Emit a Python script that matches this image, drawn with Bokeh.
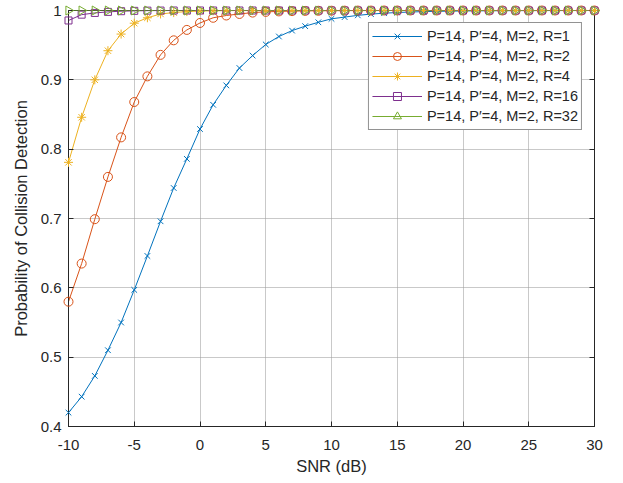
import math
from bokeh.plotting import figure
from bokeh.models import LinearAxis, FixedTicker, Range1d, Legend, Grid, ColumnDataSource, Scatter
from bokeh.embed import file_html
from bokeh.resources import INLINE

snr = list(range(-10, 31))

pd_r1 = [0.420, 0.443, 0.473, 0.510, 0.550, 0.597, 0.646, 0.696, 0.744, 0.786,
         0.829, 0.864, 0.892, 0.917, 0.935, 0.951, 0.9625, 0.971, 0.9774, 0.983,
         0.988, 0.9905, 0.993, 0.9948, 0.9961, 0.9971, 0.9978, 0.9984, 0.9988, 0.9991,
         0.9993, 0.9995, 0.9996, 0.9997, 0.9998, 0.9998, 0.9999, 0.9999, 0.9999, 1.0, 1.0]
pd_r2 = [0.580, 0.635, 0.699, 0.760, 0.817, 0.868, 0.905, 0.936, 0.957, 0.972,
         0.982, 0.9895, 0.9928, 0.995, 0.997, 0.998, 0.9987, 0.9991, 0.9994, 0.9996,
         0.9997, 0.9998, 0.9999, 0.9999, 1.0, 1.0, 1.0, 1.0, 1.0, 1.0,
         1.0, 1.0, 1.0, 1.0, 1.0, 1.0, 1.0, 1.0, 1.0, 1.0, 1.0]
pd_r4 = [0.781, 0.846, 0.900, 0.942, 0.966, 0.9817, 0.9895, 0.995, 0.997, 0.9985,
         0.9992, 0.9996, 0.9998, 0.9999, 1.0, 1.0, 1.0, 1.0, 1.0, 1.0,
         1.0, 1.0, 1.0, 1.0, 1.0, 1.0, 1.0, 1.0, 1.0, 1.0,
         1.0, 1.0, 1.0, 1.0, 1.0, 1.0, 1.0, 1.0, 1.0, 1.0, 1.0]
pd_r16 = [0.9856, 0.994, 0.9965, 0.998, 0.999, 0.9995, 0.9998, 0.9999, 1.0, 1.0,
          1.0, 1.0, 1.0, 1.0, 1.0, 1.0, 1.0, 1.0, 1.0, 1.0,
          1.0, 1.0, 1.0, 1.0, 1.0, 1.0, 1.0, 1.0, 1.0, 1.0,
          1.0, 1.0, 1.0, 1.0, 1.0, 1.0, 1.0, 1.0, 1.0, 1.0, 1.0]
pd_r32 = [1.0] * 41

series = [
    ("P=14, P\u2032=4, M=2, R=1", pd_r1, "#0072BD", "x", 8, 0.0),
    ("P=14, P\u2032=4, M=2, R=2", pd_r2, "#D95319", "circle", 9, 0.0),
    ("P=14, P\u2032=4, M=2, R=4", pd_r4, "#EDB120", "asterisk", 9, 0.0),
    ("P=14, P\u2032=4, M=2, R=16", pd_r16, "#7E2F8E", "square", 7, 0.0),
    ("P=14, P\u2032=4, M=2, R=32", pd_r32, "#77AC30", "triangle", 9, -90.0),
]

x_ticks = [-10, -5, 0, 5, 10, 15, 20, 25, 30]
x_tick_labels = ["-10", "-5", "0", "5", "10", "15", "20", "25", "30"]
y_ticks = [0.4, 0.5, 0.6, 0.7, 0.8, 0.9, 1.0]
y_tick_labels = ["0.4", "0.5", "0.6", "0.7", "0.8", "0.9", "1"]

FONT = "Liberation Sans"
AX = "#262626"

p = figure(frame_width=526, frame_height=416, output_backend="svg", toolbar_location=None,
           x_range=Range1d(-10, 30), y_range=Range1d(0.4, 1.0),
           x_axis_location=None, y_axis_location=None,
           min_border_left=68, min_border_right=22, min_border_top=10, min_border_bottom=54,
           background_fill_color="white", border_fill_color="white")
p.outline_line_color = AX
p.outline_line_alpha = 1


def style_axis(ax, labels=True):
    ax.axis_line_color = AX
    ax.axis_line_width = 1
    ax.major_tick_line_color = AX
    ax.major_tick_in = 5
    ax.major_tick_out = 0
    ax.minor_tick_line_color = None
    ax.major_label_text_font = FONT
    ax.major_label_text_color = AX
    ax.major_label_text_font_size = "15px"
    ax.axis_label_text_font = FONT
    ax.axis_label_text_font_style = "normal"
    ax.axis_label_text_color = AX
    ax.axis_label_text_font_size = "16.5px"
    if not labels:
        ax.major_label_text_alpha = 0
        ax.major_label_standoff = 0


xb = LinearAxis(ticker=FixedTicker(ticks=x_ticks), axis_label="SNR (dB)")
xb.major_label_overrides = {v: s for v, s in zip(x_ticks, x_tick_labels)}
style_axis(xb)
xb.major_label_standoff = 13
xb.axis_label_standoff = 4
p.add_layout(xb, "below")

yl = LinearAxis(ticker=FixedTicker(ticks=y_ticks), axis_label="Probability of Collision Detection")
yl.major_label_overrides = {v: s for v, s in zip(y_ticks, y_tick_labels)}
style_axis(yl)
yl.major_label_standoff = 7
yl.axis_label_standoff = 8
p.add_layout(yl, "left")

yr = LinearAxis(ticker=FixedTicker(ticks=y_ticks))
style_axis(yr, labels=False)
p.add_layout(yr, "right")

gx = Grid(dimension=0, ticker=FixedTicker(ticks=x_ticks), grid_line_color=AX, grid_line_alpha=0.15)
gy = Grid(dimension=1, ticker=FixedTicker(ticks=y_ticks), grid_line_color=AX, grid_line_alpha=0.15)
p.add_layout(gx)
p.add_layout(gy)

items = []
for label, vals, color, marker, size, ang in series:
    src = ColumnDataSource(dict(x=snr, y=vals, a=[ang] * len(snr)))
    r1 = p.line("x", "y", source=src, line_color=color, line_width=1)
    glyph = Scatter(x="x", y="y", marker=marker, size=size, angle="a", angle_units="deg",
                    line_color=color, fill_color=None, line_width=1)
    r2 = p.add_glyph(src, glyph, level="overlay")
    items.append((label, [r1, r2]))

legend = Legend(items=items, location="top_right", margin=12, padding=3, spacing=0,
                glyph_width=50, glyph_height=20, label_height=20, label_standoff=5,
                label_text_font=FONT, label_text_font_size="14.5px", label_text_color=AX,
                border_line_color=AX, border_line_width=1, background_fill_color="white",
                background_fill_alpha=1, level="overlay")
p.add_layout(legend)

open("out.html", "w").write(file_html(p, INLINE))
